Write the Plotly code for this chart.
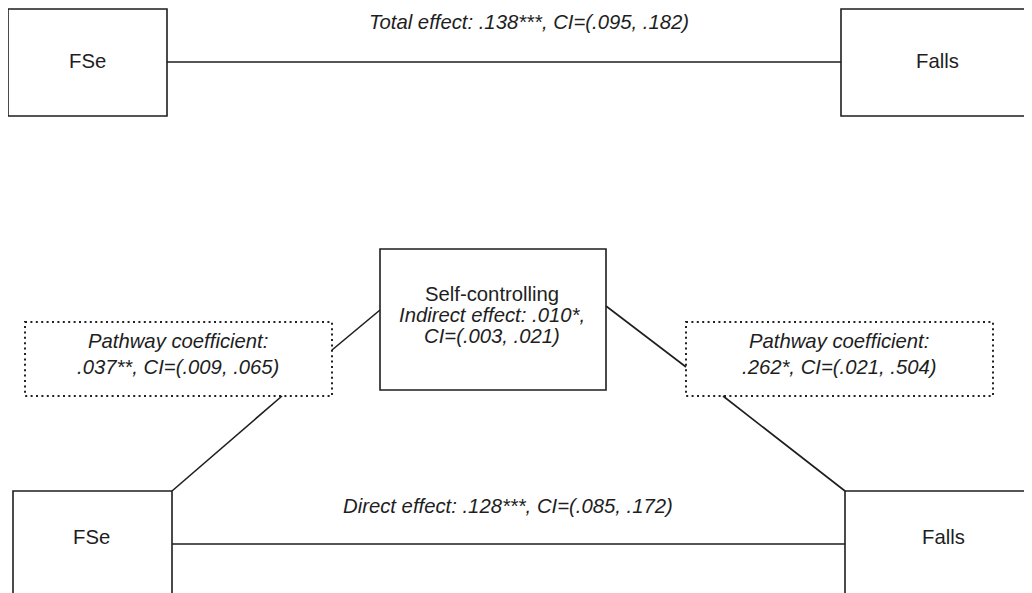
import plotly.graph_objects as go

# ---- data (labels / statistics) ----
node_labels = ["FSe", "Falls", "FSe", "Falls"]
mediator_name = "Self-controlling"
total_effect = "Total effect: .138***, CI=(.095, .182)"
direct_effect = "Direct effect: .128***, CI=(.085, .172)"
indirect_lines = ["Indirect effect: .010*,", "CI=(.003, .021)"]
path_a_lines = ["Pathway coefficient:", ".037**, CI=(.009, .065)"]
path_b_lines = ["Pathway coefficient:", ".262*, CI=(.021, .504)"]

# ---- layout geometry (page pixel space) ----
W, H = 1032, 593
OFF = 8  # default page body margin
INK = "#1e1e1e"
FONT = "Liberation Sans, Arial, sans-serif"
FS = 20.3

solid_boxes = [
    (8, 9, 167, 116),      # top FSe
    (841, 9, 1045, 116),   # top Falls
    (13, 491, 172, 610),   # bottom FSe
    (845, 491, 1045, 610), # bottom Falls
    (380, 249, 606, 390),  # mediator
]
dotted_boxes = [
    (25, 322, 332, 396),
    (686, 322, 993, 396),
]
segments = [
    (167, 62, 841, 62),
    (172, 544, 845, 544),
    (380, 310, 332, 350),
    (282, 396, 172, 491),
    (606, 306, 686, 367),
    (723, 396, 845, 491),
]
node_pos = [(87, 61), (937, 61), (91, 537), (943, 537)]

fig = go.Figure()
shapes = []
for x0, y0, x1, y1 in solid_boxes:
    shapes.append(dict(type="rect", xref="x", yref="y", x0=x0, y0=y0, x1=x1, y1=y1,
                       line=dict(color=INK, width=1.6), fillcolor="rgba(0,0,0,0)"))
for x0, y0, x1, y1 in dotted_boxes:
    shapes.append(dict(type="rect", xref="x", yref="y", x0=x0, y0=y0, x1=x1, y1=y1,
                       line=dict(color="#222", width=2, dash="2px,3.4px"),
                       fillcolor="rgba(0,0,0,0)"))
for x0, y0, x1, y1 in segments:
    shapes.append(dict(type="line", xref="x", yref="y", x0=x0, y0=y0, x1=x1, y1=y1,
                       line=dict(color=INK, width=1.6)))

annotations = []
def txt(x, y, s, italic=False):
    annotations.append(dict(x=x, y=y, xref="x", yref="y", text=(f"<i>{s}</i>" if italic else s),
                            showarrow=False, xanchor="center", yanchor="middle",
                            font=dict(family=FONT, size=FS, color=INK)))

for lab, (x, y) in zip(node_labels, node_pos):
    txt(x, y, lab)
txt(529, 22, total_effect, True)
txt(508, 506, direct_effect, True)
txt(492, 294, mediator_name)
for s, y in zip(indirect_lines, [315, 336]):
    txt(492, y, s, True)
for s, y in zip(path_a_lines, [341, 367]):
    txt(178, y, s, True)
for s, y in zip(path_b_lines, [341, 367]):
    txt(839, y, s, True)

fig.update_layout(
    width=W - OFF, height=H - OFF, margin=dict(l=0, r=0, t=0, b=0),
    paper_bgcolor="white", plot_bgcolor="white",
    xaxis=dict(range=[OFF, W], visible=False, fixedrange=True),
    yaxis=dict(range=[H, OFF], visible=False, fixedrange=True),
    shapes=shapes, annotations=annotations, showlegend=False,
)
fig.write_html("out.html")
